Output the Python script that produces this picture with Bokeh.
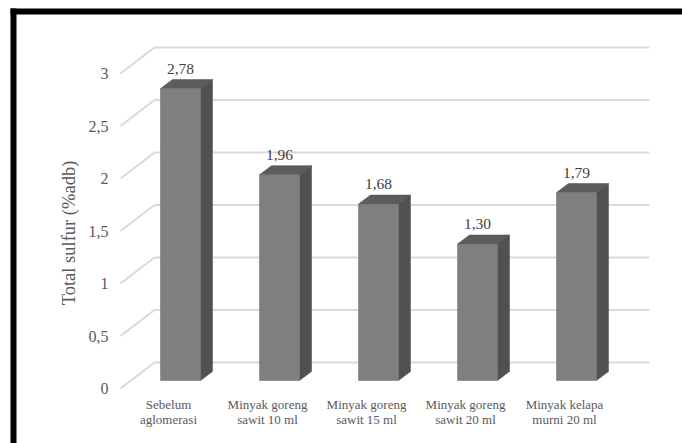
import numpy as np
from bokeh.plotting import figure
from bokeh.models import Range1d, ColumnDataSource
from bokeh.core.properties import value
from bokeh.embed import file_html
from bokeh.resources import INLINE

# ---- data ----
categories = ["Sebelum\naglomerasi", "Minyak goreng\nsawit 10 ml", "Minyak goreng\nsawit 15 ml",
              "Minyak goreng\nsawit 20 ml", "Minyak kelapa\nmurni 20 ml"]
sulfur = [2.78, 1.96, 1.68, 1.30, 1.79]
value_labels = ["2,78", "1,96", "1,68", "1,30", "1,79"]
y_ticks = [0, 0.5, 1, 1.5, 2, 2.5, 3]
y_tick_labels = ["0", "0,5", "1", "1,5", "2", "2,5", "3"]
y_title = "Total sulfur (%adb)"

# ---- geometry: the frame fills the canvas ----
W, H = 682, 443
PX_X = 99.0   # px per category step
PX_Y = 105.0  # px per value unit
ORIG_X, ORIG_Y = 180, 380   # canvas px of first bar centre / zero line


def dx(px):
    return (px - ORIG_X) / PX_X


def dy(px):
    return (ORIG_Y - px) / PX_Y


xr = Range1d(dx(0), dx(W))
yr = Range1d(dy(H), dy(0))

half_w = 20 / PX_X
dep_x = 12 / PX_X
dep_y = 9 / PX_Y
front_shift = 8 / PX_Y
back_shift = 18 / PX_Y

TEXT = "#595959"
FONT = value("Liberation Serif")

p = figure(width=W, height=H, x_range=xr, y_range=yr,
           output_backend="svg", toolbar_location=None,
           x_axis_location=None, y_axis_location=None,
           min_border=0)
p.grid.visible = False
p.outline_line_color = None
p.background_fill_color = "white"
p.border_fill_color = "white"

# chart-area border (left and top edges)
p.quad(left=[dx(10), dx(10)], right=[dx(16), dx(W)], bottom=[dy(H), dy(14)], top=[dy(8), dy(8)],
       fill_color="black", line_color=None)

# gridlines with perspective floor diagonals
gx = [[dx(120), dx(154), dx(649)] for t in y_ticks]
gy = [[t - front_shift, t + back_shift, t + back_shift] for t in y_ticks]
p.multi_line(gx, gy, line_color="#d9d9d9", line_width=2)

# bars (3D columns)
xs = np.arange(len(sulfur))
v = np.array(sulfur)
left = xs - half_w
right = xs + half_w
src = ColumnDataSource(dict(left=left, right=right, top=v, bottom=np.zeros_like(v)))
side_x = [[r, r + dep_x, r + dep_x, r] for r in right]
side_y = [[0, dep_y, h + dep_y, h] for h in v]
top_x = [[l, r, r + dep_x, l + dep_x] for l, r in zip(left, right)]
top_y = [[h, h, h + dep_y, h + dep_y] for h in v]
p.patches(side_x, side_y, fill_color="#515151", line_color="#4a4a4a", line_width=0.5)
p.patches(top_x, top_y, fill_color="#5c5c5c", line_color="#4a4a4a", line_width=0.5)
p.quad(left="left", right="right", top="top", bottom="bottom", source=src,
       fill_color="#7f7f7f", line_color="#6f6f6f", line_width=0.5)

# value labels
p.text(x=xs, y=v, text=value_labels, text_align="center", text_baseline="middle",
       y_offset=-20, text_font=FONT, text_font_size="15.5px", text_color="#404040")

# category labels
p.text(x=xs - 12 / PX_X, y=[-31.5 / PX_Y] * len(xs), text=categories, text_align="center",
       text_baseline="middle", text_line_height=1.0, text_font=FONT,
       text_font_size="13px", text_color=TEXT)

# y tick labels on the front plane
p.text(x=[dx(108)] * len(y_ticks), y=[t - front_shift for t in y_ticks], text=y_tick_labels,
       text_align="right", text_baseline="middle", text_font=FONT,
       text_font_size="16px", text_color=TEXT)

# y axis title
p.text(x=[dx(68)], y=[dy(232.5)], text=[y_title], angle=np.pi / 2,
       text_align="center", text_baseline="middle", text_font=FONT,
       text_font_size="18.5px", text_color=TEXT)

open("out.html", "w").write(file_html(p, INLINE))
